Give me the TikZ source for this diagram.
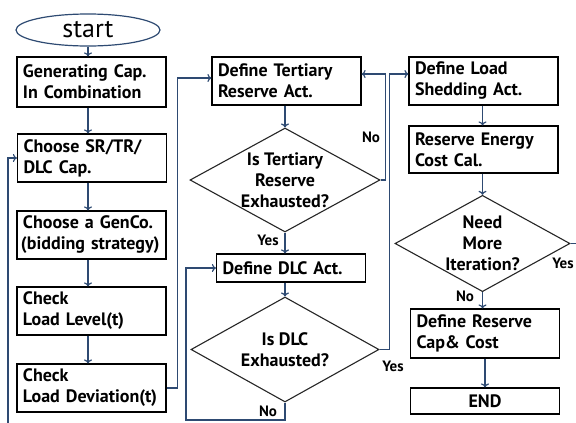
\documentclass[tikz,border=0pt]{standalone}
\usepackage{fontspec}
\setmainfont{PT Sans}
\usetikzlibrary{shapes.geometric,arrows.meta,calc}
\definecolor{navy}{HTML}{2E4A72}
\begin{document}
\begin{tikzpicture}[x=1pt,y=-1pt,
  every node/.style={font=\bfseries\fontsize{18}{21}\selectfont},
  box/.style={draw=black,fill=white,line width=1.2pt,rectangle,minimum width=149pt,minimum height=48pt,text width=137pt,align=left,inner xsep=6pt,inner ysep=0pt},
  dia/.style={draw=black!85,line width=1.1pt,diamond,aspect=1.8,inner sep=0pt,align=center},
  arr/.style={draw=navy,line width=1.2pt,-{To[length=4pt,width=8pt]}},
  ln/.style={draw=navy,line width=1.2pt},
  lab/.style={font=\bfseries\fontsize{15}{16}\selectfont,inner sep=0pt}]
\useasboundingbox (0,0) rectangle (576,423);
\fill[white] (0,0) rectangle (576,423);
% left column
\node[draw=navy,line width=1.2pt,ellipse,minimum width=144pt,minimum height=32pt,inner sep=0pt,font=\fontsize{26}{28}\selectfont] (start) at (88,30) {start};
\node[box,minimum height=50pt] (b1) at (91.5,82) {Generating Cap.\\In Combination};
\node[box] (b2) at (92,158) {Choose SR/TR/\\DLC Cap.};
\node[box] (b3) at (91.5,235) {Choose a GenCo.\\\mbox{\hspace{-2pt}(bidding strategy)}};
\node[box] (b4) at (91.5,311) {Check\\Load Level(t)};
\node[box] (b5) at (91.5,388) {Check\\\mbox{Load Deviation(t)}};
% middle column
\node[box] (tert) at (286.5,81) {Define Tertiary\\Reserve Act.};
\node[dia,minimum width=190pt,minimum height=104pt] (d1) at (285,180) {Is Tertiary\\Reserve\\Exhausted?};
\node[box,minimum width=148pt,minimum height=28pt] (dlc) at (291,268) {Define DLC Act.};
\node[dia,minimum width=188pt,minimum height=105pt] (d2) at (285,349.5) {Is DLC\\Exhausted?};
% right column
\node[box] (shed) at (483.5,81) {Define Load\\Shedding Act.};
\node[box,minimum height=47pt] (cost) at (483.5,149.5) {Reserve Energy\\Cost Cal.};
\node[dia,minimum width=175pt,minimum height=96pt] (d3) at (482.5,243.5) {Need\\More\\Iteration?};
\node[box,minimum height=49pt] (res) at (485,333.5) {Define Reserve\\Cap\& Cost};
\node[box,minimum height=26pt,align=center] (end) at (485,401) {END};
% loop ends
\coordinate (loopL) at (8,423);
\coordinate (loopR) at (576,243.5);
\coordinate (lb) at (186,420);
% connectors left column
\draw[arr] (start.south) -- (start.south |- b1.north);
\draw[arr] (start.south |- b1.south) -- (start.south |- b2.north);
\draw[arr] (start.south |- b2.south) -- (start.south |- b3.north);
\draw[arr] (start.south |- b3.south) -- (start.south |- b4.north);
\draw[arr] (start.south |- b4.south) -- (start.south |- b5.north);
\draw[arr] (loopL) |- (b2.west);
\draw[arr] (b5.east) -- ++(11,0) |- ([yshift=3pt]tert.west);
% middle
\draw[arr] (d1.north |- tert.south) -- (d1.north);
\draw[arr] (d1.south) -- (d1.south |- dlc.north);
\draw[arr] (d1.east) -- ++(5,0) |- ([yshift=7pt]tert.east);
\draw[arr] (dlc.south -| d2.north) -- (d2.north);
\draw[arr] (d2.east) -- ++(10,0) |- ([yshift=7pt]shed.west);
\draw[arr] (d2.south) |- (lb) |- (dlc.west);
% right
\draw[arr] (d3.north |- shed.south) -- (d3.north |- cost.north);
\draw[arr] (d3.north |- cost.south) -- (d3.north);
\draw[arr] (d3.south) -- (d3.south |- res.north);
\draw[arr] (end.north |- res.south) -- (end.north);
\draw[ln] (d3.east) -- (loopR);
% labels
\node[lab] (l1) at (371,137) {No};
\node[lab] (l2) at (268,240) {Yes};
\node[lab] (l3) at (393,366) {Yes};
\node[lab] (l4) at (268,411) {No};
\node[lab] (l5) at (465,296) {No};
\node[lab] (l6) at (563,263) {Yes};
\end{tikzpicture}
\end{document}
